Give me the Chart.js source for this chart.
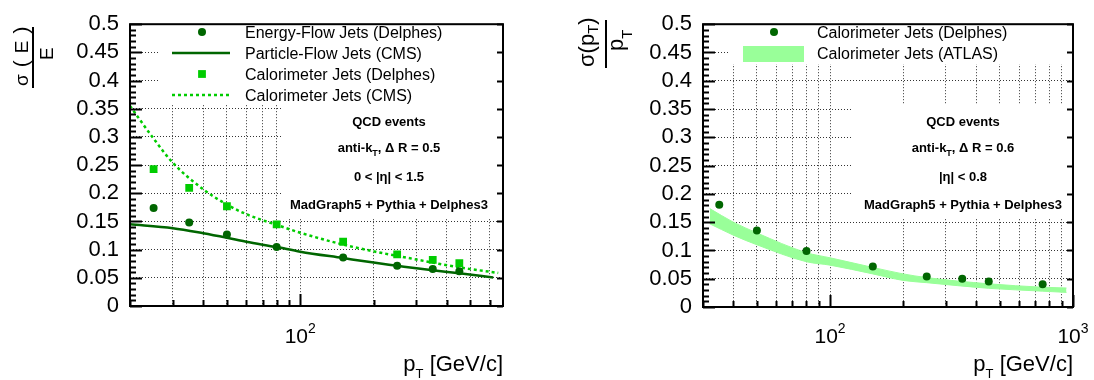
<!DOCTYPE html>
<html><head><meta charset="utf-8">
<script src="https://cdn.jsdelivr.net/npm/chart.js@4.4.1/dist/chart.umd.min.js"></script>
<style>
html,body{margin:0;padding:0;background:#fff;}
body{width:1094px;height:380px;position:relative;overflow:hidden;}
canvas{position:absolute;top:0;}
#c1{left:0}#c2{left:547px}
</style></head><body>
<canvas id="c1" width="547" height="380"></canvas>
<canvas id="c2" width="547" height="380"></canvas>
<script>
const FONT = '"Liberation Sans", Arial, Helvetica, sans-serif';
const DARK = '#006600', BRIGHT = '#00cc00', BAND = '#99ff99';

// ---------- left panel: sigma(E)/E ----------
const ptBins = [25, 35, 50, 80, 150, 250, 350, 450];
const eflowDelphes = [0.174, 0.148, 0.127, 0.1045, 0.086, 0.0714, 0.0656, 0.0615];
const caloDelphes = [0.243, 0.2096, 0.177, 0.145, 0.114, 0.0917, 0.0819, 0.076];
const pflowCmsPt = [20, 30, 40, 50, 60, 80, 100, 150, 200, 250, 300, 350, 450, 620];
const pflowCmsRes = [0.145, 0.138, 0.129, 0.121, 0.114, 0.1045, 0.0964, 0.085, 0.077, 0.0714, 0.0668, 0.0633, 0.058, 0.0505];
const caloCmsPt = [20, 25, 30, 40, 50, 60, 80, 100, 150, 200, 250, 350, 450, 650];
const caloCmsRes = [0.355, 0.297, 0.254, 0.207, 0.180, 0.163, 0.144, 0.130, 0.109, 0.097, 0.089, 0.077, 0.0685, 0.0587];

// ---------- right panel: sigma(pT)/pT ----------
const ptBinsAtlas = [35, 50, 80, 150, 250, 350, 450, 750];
const caloDelphesAtlas = [0.181, 0.1354, 0.099, 0.0717, 0.0538, 0.0500, 0.0451, 0.0402];
const atlasBandPt = [32, 40, 50, 80, 100, 150, 200, 250, 450, 750, 940];
const atlasBandHigh = [0.174, 0.150, 0.131, 0.096, 0.087, 0.070, 0.0585, 0.052, 0.041, 0.035, 0.0336];
const atlasBandLow = [0.147, 0.127, 0.110, 0.080, 0.074, 0.0585, 0.047, 0.043, 0.033, 0.028, 0.0258];

// ---------- ticks ----------
const yTickValues = [0, 0.05, 0.1, 0.15, 0.2, 0.25, 0.3, 0.35, 0.4, 0.45, 0.5];
const yTickLabels = ['0', '0.05', '0.1', '0.15', '0.2', '0.25', '0.3', '0.35', '0.4', '0.45', '0.5'];
const xGridLeft = [20, 30, 40, 50, 60, 70, 80, 90, 100, 200, 300, 400, 500, 600];
const xGridRight = [30, 40, 50, 60, 70, 80, 90, 100, 200, 300, 400, 500, 600, 700, 800, 900, 1000];
const xLabelsLeft = [100];
const xLabelsRight = [100, 1000];

const xy = (xs, ys) => xs.map((x, i) => ({x, y: ys[i]}));

function setFont(ctx, r) { ctx.font = (r.b ? 'bold ' : '') + r.s + 'px ' + FONT; }
function runsWidth(ctx, runs) {
  let w = 0;
  for (const r of runs) { setFont(ctx, r); w += ctx.measureText(r.t).width + (r.g || 0); }
  return w;
}
function drawRuns(ctx, runs, x, y, align) {
  const w = runsWidth(ctx, runs);
  let cx = align === 'center' ? x - w / 2 : align === 'right' ? x - w : x;
  ctx.textAlign = 'left'; ctx.textBaseline = 'alphabetic';
  for (const r of runs) {
    setFont(ctx, r);
    cx += (r.g || 0);
    ctx.fillText(r.t, cx, y + (r.dy || 0));
    cx += ctx.measureText(r.t).width;
  }
}

const rootPlugin = {
  id: 'root',
  beforeDatasetsDraw(chart, args, o) {
    const ctx = chart.ctx;
    ctx.save(); ctx.fillStyle = '#fff';
    for (const b of o.boxes) ctx.fillRect(b[0], b[1], b[2] - b[0], b[3] - b[1]);
    ctx.restore();
  },
  afterDatasetsDraw(chart, args, o) {
    const ctx = chart.ctx, a = chart.chartArea;
    const xs = chart.scales.x, ys = chart.scales.y;
    ctx.save();
    // legend
    const L = o.legend;
    for (const row of L.rows) {
      const ds = chart.data.datasets[row.ds];
      if (row.kind === 'circle') {
        ctx.fillStyle = ds.pointBackgroundColor;
        ctx.beginPath(); ctx.arc(L.symX, row.y, ds.pointRadius, 0, Math.PI * 2); ctx.fill();
      } else if (row.kind === 'square') {
        const h = ds.pointRadius * Math.SQRT1_2;
        ctx.fillStyle = ds.pointBackgroundColor;
        ctx.fillRect(L.symX - h, row.y - h, 2 * h, 2 * h);
      } else if (row.kind === 'line') {
        ctx.strokeStyle = ds.borderColor; ctx.lineWidth = ds.borderWidth;
        ctx.setLineDash(ds.borderDash || []);
        ctx.beginPath(); ctx.moveTo(L.x0, row.y); ctx.lineTo(L.x1, row.y); ctx.stroke();
        ctx.setLineDash([]);
      } else if (row.kind === 'band') {
        ctx.fillStyle = ds.backgroundColor;
        ctx.fillRect(L.x0, row.y - 7, L.x1 - L.x0, 16);
      }
      ctx.fillStyle = '#000';
      drawRuns(ctx, [{t: row.label, s: 16}], L.textX, row.y + 6, 'left');
    }
    // notes
    ctx.fillStyle = '#000';
    o.notes.lines.forEach((runs, i) => drawRuns(ctx, runs, o.notes.cx, o.notes.ys[i], 'center'));
    // frame
    ctx.strokeStyle = '#000'; ctx.lineWidth = 2;
    ctx.strokeRect(a.left, a.top, a.right - a.left, a.bottom - a.top);
    // y ticks (inward)
    ctx.lineWidth = 2;
    ctx.beginPath();
    for (let i = 0; i <= 50; i++) {
      const v = i / 100, py = Math.round(ys.getPixelForValue(v)) + 0.5;
      const major = i % 5 === 0;
      ctx.moveTo(a.left, py); ctx.lineTo(a.left + (major ? 12 : 6), py);
      if (major) { ctx.moveTo(a.right, py); ctx.lineTo(a.right - 6, py); }
    }
    // x ticks (inward)
    for (const v of o.xGrid) {
      const px = Math.round(xs.getPixelForValue(v)) + 0.5;
      const major = o.xLabels.includes(v);
      ctx.moveTo(px, a.bottom); ctx.lineTo(px, a.bottom - (major ? 12 : 6));
    }
    ctx.stroke();
    // x tick labels 10^n
    ctx.fillStyle = '#000';
    for (const v of o.xLabels) {
      const px = xs.getPixelForValue(v);
      drawRuns(ctx, [{t: '10', s: 21}, {t: String(Math.round(Math.log10(v))), s: 14, dy: -10}], px, 343, 'center');
    }
    // x title
    drawRuns(ctx, [{t: 'p', s: 22}, {t: 'T', s: 13, dy: 7}, {t: ' [GeV/c]', s: 22}], a.right, 371, 'right');
    // y title (fraction, rotated)
    const t = o.ytitle;
    ctx.translate(t.ox, t.oy); ctx.rotate(-Math.PI / 2);
    ctx.lineWidth = 2; ctx.beginPath(); ctx.moveTo(0, 0); ctx.lineTo(t.len, 0); ctx.stroke();
    drawRuns(ctx, t.num, t.numX, t.numBase, 'left');
    drawRuns(ctx, t.den, t.denX, t.denBase, 'left');
    ctx.restore();
  }
};

function makeOptions(cfg) {
  const gridOpt = {color: '#333', lineWidth: 1, drawTicks: false};
  return {
    responsive: false, animation: false, devicePixelRatio: 1, events: [],
    layout: {padding: {left: 0, right: cfg.padRight, top: 19, bottom: 0}},
    plugins: {legend: {display: false}, tooltip: {enabled: false}, root: cfg.root},
    scales: {
      x: {
        type: 'logarithmic', min: cfg.xmin, max: cfg.xmax, bounds: 'data',
        afterBuildTicks: s => { s.ticks = cfg.root.xGrid.map(v => ({value: v})); },
        afterFit: s => { s.height = cfg.xHeight; },
        ticks: {display: false, autoSkip: false},
        grid: gridOpt, border: {display: false, dash: [1, 2]}
      },
      y: {
        type: 'linear', min: 0, max: 0.5,
        afterBuildTicks: s => { s.ticks = yTickValues.map(v => ({value: v})); },
        afterFit: s => { s.width = cfg.yWidth; },
        ticks: {autoSkip: false, padding: 11, color: '#000', font: {family: FONT, size: 22},
                callback: (v, i) => yTickLabels[i]},
        grid: gridOpt, border: {display: false, dash: [1, 2]}
      }
    }
  };
}

const boldNote = (t, extra) => Object.assign({t, s: 13, b: 1}, extra || {});

new Chart(document.getElementById('c1'), {
  type: 'scatter',
  data: {datasets: [
    {label: 'Energy-Flow Jets (Delphes)', data: xy(ptBins, eflowDelphes), showLine: false,
     pointStyle: 'circle', pointRadius: 4, pointBackgroundColor: DARK, pointBorderWidth: 0},
    {label: 'Particle-Flow Jets (CMS)', data: xy(pflowCmsPt, pflowCmsRes), showLine: true,
     borderColor: DARK, borderWidth: 2.5, pointRadius: 0, cubicInterpolationMode: 'monotone'},
    {label: 'Calorimeter Jets (Delphes)', data: xy(ptBins, caloDelphes), showLine: false,
     pointStyle: 'rect', pointRadius: 5.5, pointBackgroundColor: BRIGHT, pointBorderWidth: 0},
    {label: 'Calorimeter Jets (CMS)', data: xy(caloCmsPt, caloCmsRes), showLine: true,
     borderColor: BRIGHT, borderWidth: 2.5, borderDash: [3, 3], pointRadius: 0, cubicInterpolationMode: 'monotone'}
  ]},
  options: makeOptions({
    xmin: 20, xmax: 680, padRight: 44, xHeight: 74, yWidth: 130,
    root: {
      boxes: [[158, 20, 500, 104], [281, 104, 500, 219]],
      legend: {symX: 202, x0: 172, x1: 230, textX: 245, rows: [
        {y: 32, ds: 0, kind: 'circle', label: 'Energy-Flow Jets (Delphes)'},
        {y: 53, ds: 1, kind: 'line', label: 'Particle-Flow Jets (CMS)'},
        {y: 74, ds: 2, kind: 'square', label: 'Calorimeter Jets (Delphes)'},
        {y: 95, ds: 3, kind: 'line', label: 'Calorimeter Jets (CMS)'}
      ]},
      notes: {cx: 389, ys: [125.5, 152.3, 181, 208.5], lines: [
        [boldNote('QCD events')],
        [boldNote('anti-k'), boldNote('T', {s: 9, dy: 4}), boldNote(', \u0394 R = 0.5')],
        [boldNote('0 < |\u03b7| < 1.5')],
        [boldNote('MadGraph5 + Pythia + Delphes3')]
      ]},
      xGrid: xGridLeft, xLabels: xLabelsLeft,
      ytitle: {ox: 33, oy: 88, len: 61, numX: 2, numBase: -5, denX: 28, denBase: 20,
        num: [{t: '\u03c3', s: 19}, {t: '(', s: 21, g: 7}, {t: 'E', s: 19, g: 7}, {t: ')', s: 21, g: 7}],
        den: [{t: 'E', s: 19}]}
    }
  }),
  plugins: [rootPlugin]
});

new Chart(document.getElementById('c2'), {
  type: 'scatter',
  data: {datasets: [
    {label: 'Calorimeter Jets (Delphes)', data: xy(ptBinsAtlas, caloDelphesAtlas), showLine: false,
     pointStyle: 'circle', pointRadius: 4, pointBackgroundColor: DARK, pointBorderWidth: 0},
    {label: 'Calorimeter Jets (ATLAS)', data: xy(atlasBandPt, atlasBandHigh), showLine: true,
     borderColor: BAND, borderWidth: 1, backgroundColor: BAND, fill: '+1', pointRadius: 0, cubicInterpolationMode: 'monotone'},
    {label: 'ATLAS low', data: xy(atlasBandPt, atlasBandLow), showLine: true,
     borderColor: BAND, borderWidth: 1, backgroundColor: BAND, fill: false, pointRadius: 0, cubicInterpolationMode: 'monotone'}
  ]},
  options: makeOptions({
    xmin: 30, xmax: 1000, padRight: 21, xHeight: 73, yWidth: 156,
    root: {
      boxes: [[183, 20, 523, 64], [305, 104, 523, 219]],
      legend: {symX: 227, x0: 196, x1: 257, textX: 270, rows: [
        {y: 32, ds: 0, kind: 'circle', label: 'Calorimeter Jets (Delphes)'},
        {y: 53, ds: 1, kind: 'band', label: 'Calorimeter Jets (ATLAS)'}
      ]},
      notes: {cx: 416, ys: [125.5, 152.3, 181, 208.5], lines: [
        [boldNote('QCD events')],
        [boldNote('anti-k'), boldNote('T', {s: 9, dy: 4}), boldNote(', \u0394 R = 0.6')],
        [boldNote('|\u03b7| < 0.8')],
        [boldNote('MadGraph5 + Pythia + Delphes3')]
      ]},
      xGrid: xGridRight, xLabels: xLabelsRight,
      ytitle: {ox: 59, oy: 68, len: 48, numX: 1, numBase: -12.5, denX: 17, denBase: 17,
        num: [{t: '\u03c3', s: 22}, {t: '(', s: 22}, {t: 'p', s: 22}, {t: 'T', s: 15, dy: 4.5}, {t: ')', s: 22}],
        den: [{t: 'p', s: 22}, {t: 'T', s: 15, dy: 9}]}
    }
  }),
  plugins: [rootPlugin]
});
</script></body></html>
